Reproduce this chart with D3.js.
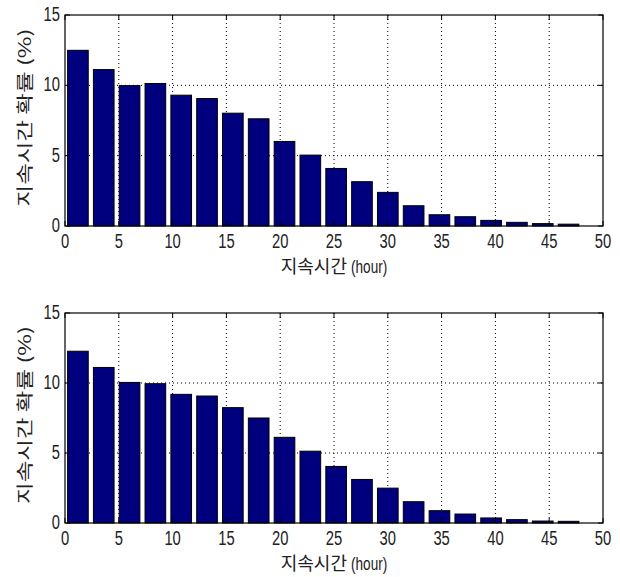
<!DOCTYPE html>
<html>
<head>
<meta charset="utf-8">
<script src="https://cdn.jsdelivr.net/npm/d3@7"></script>
<style>
  body { margin: 0; background: #fff; }
  svg { display: block; }
</style>
</head>
<body>
<svg id="chart" width="620" height="577"></svg>
<script>
// bin centres (hour) shared by both panels
const binCenters = [1.2, 3.6, 6.0, 8.4, 10.8, 13.2, 15.6, 18.0, 20.4, 22.8,
                    25.2, 27.6, 30.0, 32.4, 34.8, 37.2, 39.6, 42.0, 44.4, 46.8];
// duration probability (%) - upper panel
const topValues = [12.49, 11.12, 9.98, 10.13, 9.30, 9.06, 8.02, 7.62, 6.01, 5.04,
                   4.09, 3.15, 2.39, 1.44, 0.80, 0.66, 0.40, 0.26, 0.17, 0.13];
// duration probability (%) - lower panel
const bottomValues = [12.27, 11.11, 10.04, 9.95, 9.19, 9.07, 8.24, 7.50, 6.12, 5.13,
                      4.04, 3.11, 2.49, 1.52, 0.88, 0.64, 0.36, 0.24, 0.14, 0.12];
const xTicks = [0, 5, 10, 15, 20, 25, 30, 35, 40, 45, 50];
const yTicks = [0, 5, 10, 15];
const yLabel = "지속시간 확률 (%)";
const xLabel = "지속시간";
const xUnit = "(hour)";

const svg = d3.select("#chart");
const left = 65, right = 603;
const barWidth = 1.92; // in hours, 80% of bin width
const tickFont = "'Liberation Sans', Arial, sans-serif";
const krFont = "'Noto Sans CJK KR', sans-serif";

// Draws one MATLAB-style bar panel
const drawPanel = (values, top, bottom) => {
  const x = d3.scaleLinear().domain([0, 50]).range([left, right]);
  const y = d3.scaleLinear().domain([0, 15]).range([bottom, top]);
  const g = svg.append("g");

  // dotted grid
  g.selectAll(".gx").data(xTicks.slice(1, -1)).enter().append("line")
    .attr("x1", d => x(d)).attr("x2", d => x(d))
    .attr("y1", top).attr("y2", bottom)
    .style("stroke", "#000").style("stroke-dasharray", "1,3");
  g.selectAll(".gy").data(yTicks.slice(1, -1)).enter().append("line")
    .attr("x1", left).attr("x2", right)
    .attr("y1", d => y(d)).attr("y2", d => y(d))
    .style("stroke", "#000").style("stroke-dasharray", "1,3");

  // bars
  g.selectAll(".bar").data(values).enter().append("rect")
    .attr("x", (d, i) => x(binCenters[i] - barWidth / 2))
    .attr("width", x(barWidth) - x(0))
    .attr("y", d => y(d))
    .attr("height", d => y(0) - y(d))
    .style("fill", "#00007f")
    .style("stroke", "#000")
    .style("stroke-width", 1);

  // inward ticks on all four sides
  xTicks.forEach(t => {
    g.append("line").attr("x1", x(t)).attr("x2", x(t)).attr("y1", bottom).attr("y2", bottom - 5).style("stroke", "#000");
    g.append("line").attr("x1", x(t)).attr("x2", x(t)).attr("y1", top).attr("y2", top + 5).style("stroke", "#000");
  });
  yTicks.forEach(t => {
    g.append("line").attr("x1", left).attr("x2", left + 5).attr("y1", y(t)).attr("y2", y(t)).style("stroke", "#000");
    g.append("line").attr("x1", right).attr("x2", right - 5).attr("y1", y(t)).attr("y2", y(t)).style("stroke", "#000");
  });

  // axes box
  g.append("rect")
    .attr("x", left).attr("y", top)
    .attr("width", right - left).attr("height", bottom - top)
    .style("fill", "none").style("stroke", "#000").style("stroke-width", 1.2);

  // tick labels (narrow, tall digits)
  g.selectAll(".xl").data(xTicks).enter().append("text")
    .attr("transform", d => `translate(${x(d)},${bottom + 22}) scale(0.82,1.15)`)
    .attr("text-anchor", "middle")
    .style("font-family", tickFont).style("font-size", "18px").style("fill", "#222")
    .text(d => d);
  g.selectAll(".yl").data(yTicks).enter().append("text")
    .attr("transform", d => `translate(${left - 5},${y(d) + 6}) scale(0.82,1.15)`)
    .attr("text-anchor", "end")
    .style("font-family", tickFont).style("font-size", "18px").style("fill", "#222")
    .text(d => d);

  // x axis label: Korean part then narrow unit
  const cx = (left + right) / 2;
  g.append("text")
    .attr("x", cx + 13)
    .attr("y", bottom + 47)
    .attr("text-anchor", "end")
    .style("font-family", krFont).style("font-size", "18px").style("fill", "#222")
    .text(xLabel);
  g.append("text")
    .attr("transform", `translate(${cx + 17},${bottom + 47}) scale(0.85,1.1)`)
    .style("font-family", tickFont).style("font-size", "16px").style("fill", "#222")
    .text(xUnit);

  g.append("text")
    .attr("transform", `translate(31,${(top + bottom) / 2 - 3}) rotate(-90)`)
    .attr("text-anchor", "middle")
    .attr("textLength", 178)
    .attr("lengthAdjust", "spacingAndGlyphs")
    .style("font-family", krFont).style("font-size", "17px").style("fill", "#222")
    .text(yLabel);
};

drawPanel(topValues, 15, 226);
drawPanel(bottomValues, 313, 523);
</script>
</body>
</html>
